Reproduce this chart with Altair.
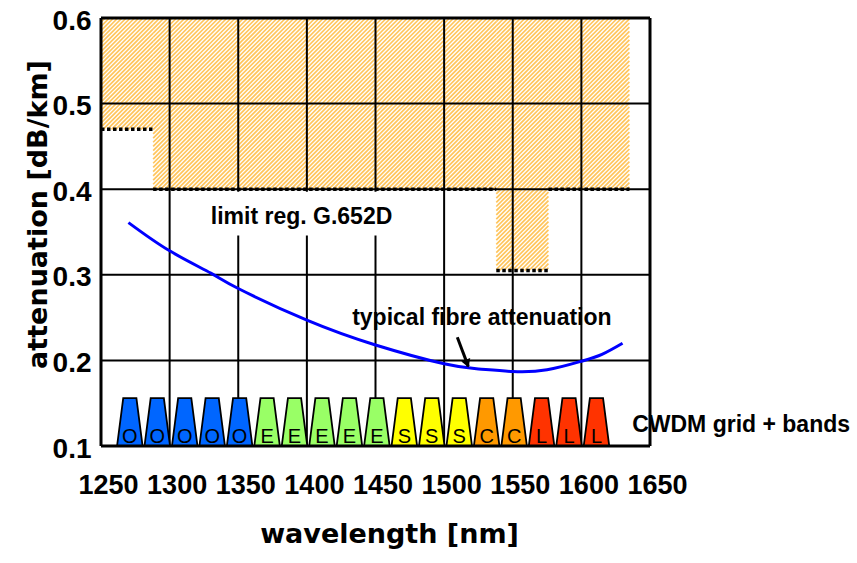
import altair as alt
import numpy as np
import pandas as pd

# ---------------- data ----------------
x_ticks = [1250, 1300, 1350, 1400, 1450, 1500, 1550, 1600, 1650]
y_ticks = [0.1, 0.2, 0.3, 0.4, 0.5, 0.6]

fibre_wl = [1270, 1300, 1330, 1350, 1400, 1450, 1500, 1525, 1550, 1575, 1600, 1615, 1630]
fibre_att = [0.361, 0.328, 0.302, 0.284, 0.247, 0.218, 0.196, 0.190, 0.187, 0.189, 0.199, 0.207, 0.220]

limit_edges = [1250, 1288, 1538, 1576, 1635]
limit_att = [0.47, 0.40, 0.305, 0.40]

cwdm_wl = [1271, 1291, 1311, 1331, 1351, 1371, 1391, 1411, 1431, 1451,
           1471, 1491, 1511, 1531, 1551, 1571, 1591, 1611]
cwdm_band = ["O", "O", "O", "O", "O", "E", "E", "E", "E", "E",
             "S", "S", "S", "C", "C", "L", "L", "L"]
band_names = ["O", "E", "S", "C", "L"]
band_colors = ["#0066FF", "#99FF66", "#FFFF00", "#FF9900", "#FF3300"]

label_text = ["limit reg. G.652D", "typical fibre attenuation", "CWDM grid + bands"]
label_x = [1330, 1433, 1637]
label_y = [0.359, 0.241, 0.116]

arrow_x = [1509.6, 1517.6]
arrow_y = [0.227, 0.193]

# ---------------- layout ----------------
W, H = 549, 428
X_DOM = [1250, 1650]
Y_DOM = [0.1, 0.6]
sx = W / (X_DOM[1] - X_DOM[0])
sy = H / (Y_DOM[1] - Y_DOM[0])

xs = alt.Scale(domain=X_DOM, nice=False, zero=False)
ys = alt.Scale(domain=Y_DOM, nice=False, zero=False)

FONT = "Liberation Sans"

X_AXIS = alt.Axis(
    values=x_ticks, format="d", grid=False, domain=False, ticks=False, tickSize=0,
    labelFont=FONT, labelFontWeight="bold", labelFontSize=27, labelColor="black",
    labelPadding=26, labelOffset=7, labelFlush=False, labelOverlap=False,
    title="wavelength [nm]", titleFont="DejaVu Sans", titleFontWeight="bold",
    titleFontSize=27, titleColor="black", titleX=288, titleY=96,
    titleBaseline="alphabetic", titleAlign="center",
)
Y_AXIS = alt.Axis(
    values=y_ticks, format=".1f", grid=False, domain=False, ticks=False, tickSize=0,
    labelFont=FONT, labelFontWeight="bold", labelFontSize=28, labelColor="black",
    labelPadding=10, labelOffset=3, labelFlush=False, labelOverlap=False,
    title="attenuation [dB/km]", titleFont="DejaVu Sans", titleFontWeight="bold",
    titleFontSize=27, titleColor="black", titleX=-55, titleY=196, titleAngle=270,
    titleBaseline="alphabetic", titleAlign="center",
)


def X(field):
    return alt.X(field, scale=xs, axis=X_AXIS)


def Y(field):
    return alt.Y(field, scale=ys, axis=Y_AXIS)


# ---------------- hatch (region above the limit) ----------------
period = 4.2
rows = []
for x0, x1, lo in zip(limit_edges[:-1], limit_edges[1:], limit_att):
    px0 = (x0 - X_DOM[0]) * sx
    px1 = (x1 - X_DOM[0]) * sx
    h0 = (lo - Y_DOM[0]) * sy
    h1 = (Y_DOM[1] - Y_DOM[0]) * sy
    for k in np.arange(-H, W + period, period):
        a = max(h0, px0 - k)
        b = min(h1, px1 - k)
        if b > a:
            rows.append(dict(x=X_DOM[0] + (k + a) / sx, y=Y_DOM[0] + a / sy,
                             x2=X_DOM[0] + (k + b) / sx, y2=Y_DOM[0] + b / sy))
hatch_df = pd.DataFrame(rows)

hatch = alt.Chart(hatch_df).mark_rule(color="#FFC55C", strokeWidth=1.7).encode(
    x=X("x:Q"), y=Y("y:Q"), x2="x2:Q", y2="y2:Q",
)

limit_df = pd.DataFrame({"x0": limit_edges[:-1], "x1": limit_edges[1:], "lim": limit_att})
limit_lines = alt.Chart(limit_df).mark_rule(
    color="black", strokeWidth=3.5, strokeDash=[3.5, 2.5]
).encode(x=X("x0:Q"), x2="x1:Q", y=Y("lim:Q"))

# ---------------- grid ----------------
grid_v = alt.Chart(pd.DataFrame({"x": x_ticks[1:-1]})).mark_rule(
    color="black", strokeWidth=2
).encode(x=X("x:Q"))
grid_h = alt.Chart(pd.DataFrame({"y": y_ticks[1:-1]})).mark_rule(
    color="black", strokeWidth=2
).encode(y=Y("y:Q"))

frame_v = alt.Chart(pd.DataFrame({"x": [x_ticks[0], x_ticks[-1]]})).mark_rule(
    color="black", strokeWidth=3
).encode(x=X("x:Q"))
frame_h = alt.Chart(pd.DataFrame({"y": [y_ticks[0], y_ticks[-1]]})).mark_rule(
    color="black", strokeWidth=3
).encode(y=Y("y:Q"))

# white box behind the limit label
box_df = pd.DataFrame({"x": [label_x[0] - 4], "x2": [label_x[0] + 139],
                       "y": [label_y[0] - 0.013], "y2": [0.397]})
box = alt.Chart(box_df).mark_rect(color="white").encode(
    x=X("x:Q"), x2="x2:Q", y=Y("y:Q"), y2="y2:Q",
)

# ---------------- fibre curve ----------------
curve = alt.Chart(pd.DataFrame({"wl": fibre_wl, "att": fibre_att})).mark_line(
    color="#0000FF", strokeWidth=3, interpolate="natural"
).encode(x=X("wl:Q"), y=Y("att:Q"))

# ---------------- CWDM trapezoids ----------------
half_bottom, half_top, trap_top = 9.3, 4.8, 0.156
trap_rows = []
for i, (c, b) in enumerate(zip(cwdm_wl, cwdm_band)):
    trap_rows.append(dict(ch=i, band=b, y=Y_DOM[0], xl=c - half_bottom, xr=c + half_bottom))
    trap_rows.append(dict(ch=i, band=b, y=trap_top, xl=c - half_top, xr=c + half_top))
trap_df = pd.DataFrame(trap_rows)

traps = alt.Chart(trap_df).mark_area(
    orient="horizontal", stroke="black", strokeWidth=1.8, opacity=1, interpolate="linear"
).encode(
    y=Y("y:Q"),
    x=alt.X("xl:Q", scale=xs, axis=X_AXIS, stack=None),
    x2="xr:Q",
    color=alt.Color("band:N", scale=alt.Scale(domain=band_names, range=band_colors), legend=None),
    detail="ch:N",
)

letters_df = pd.DataFrame({"wl": cwdm_wl, "band": cwdm_band})
letters_df["ly"] = 0.103
letters = alt.Chart(letters_df).mark_text(
    font=FONT, fontSize=20, color="black", baseline="alphabetic", align="center"
).encode(x=X("wl:Q"), y=Y("ly:Q"), text="band:N")

# ---------------- annotations ----------------
labels = alt.Chart(pd.DataFrame({"t": label_text, "x": label_x, "y": label_y})).mark_text(
    font=FONT, fontSize=23, fontWeight="bold", color="black", align="left", baseline="alphabetic"
).encode(x=X("x:Q"), y=Y("y:Q"), text="t:N")

arrow = alt.Chart(pd.DataFrame({"x": [arrow_x[0]], "y": [arrow_y[0]],
                                "x2": [arrow_x[1]], "y2": [arrow_y[1]]})).mark_rule(
    color="black", strokeWidth=3
).encode(x=X("x:Q"), x2="x2:Q", y=Y("y:Q"), y2="y2:Q")

dxp = (arrow_x[1] - arrow_x[0]) * sx
dyp = -(arrow_y[1] - arrow_y[0]) * sy
ln = np.hypot(dxp, dyp)
head_angle = float((-np.degrees(np.arctan2(dxp, dyp))) % 360)
head_df = pd.DataFrame({"x": [arrow_x[1] - 3 * dxp / ln / sx],
                        "y": [arrow_y[1] + 3 * dyp / ln / sy]})
head = alt.Chart(head_df).mark_point(
    shape="triangle-down", filled=True, color="black", size=90, opacity=1, angle=head_angle
).encode(x=X("x:Q"), y=Y("y:Q"))

chart = alt.layer(
    hatch, grid_v, grid_h, box, limit_lines, curve, traps, letters,
    frame_v, frame_h, labels, arrow, head,
).properties(
    width=W, height=H,
    padding={"left": 101, "top": 18, "right": 207, "bottom": 117},
    autosize=alt.AutoSizeParams(type="none"),
    background="white",
).configure_view(stroke=None)

chart.save("out.html", embed_options={"renderer": "svg", "actions": False})
